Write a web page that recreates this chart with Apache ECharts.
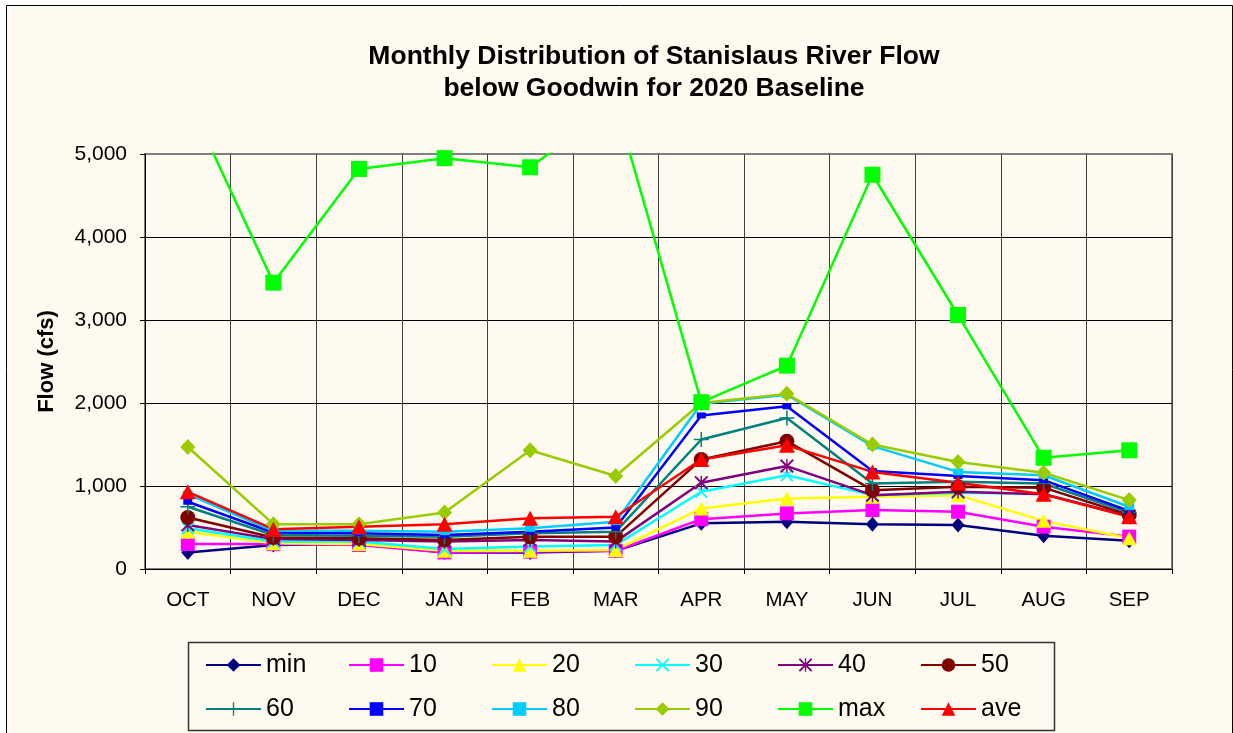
<!DOCTYPE html>
<html>
<head>
<meta charset="utf-8">
<script src="https://cdn.jsdelivr.net/npm/echarts@6/dist/echarts.min.js"></script>
<style>
html,body{margin:0;padding:0;background:#ffffff;}
#chart{width:1233px;height:733px;}
</style>
</head>
<body>
<div id="chart"></div>
<script>
var months = ['OCT','NOV','DEC','JAN','FEB','MAR','APR','MAY','JUN','JUL','AUG','SEP'];
var yTicks = [0, 1000, 2000, 3000, 4000, 5000];

var sMin = [200, 290, 300, 200, 200, 220, 550, 570, 540, 530, 400, 340];
var s10  = [300, 300, 290, 200, 210, 220, 600, 670, 710, 690, 510, 390];
var s20  = [450, 310, 300, 220, 220, 230, 730, 850, 870, 890, 580, 370];
var s30  = [490, 330, 330, 240, 270, 290, 930, 1130, 890, 920, 910, 630];
var s40  = [530, 360, 350, 330, 350, 330, 1040, 1240, 890, 930, 900, 640];
var s50  = [620, 380, 370, 350, 390, 390, 1320, 1540, 950, 990, 980, 650];
var s60  = [750, 410, 400, 390, 430, 450, 1560, 1820, 1030, 1050, 1030, 680];
var s70  = [810, 440, 430, 410, 450, 500, 1850, 1960, 1180, 1120, 1070, 700];
var s80  = [900, 460, 460, 450, 490, 570, 1990, 2100, 1480, 1170, 1130, 750];
var s90  = [1470, 540, 540, 680, 1430, 1120, 2000, 2110, 1500, 1290, 1160, 830];
var sMax = [5670, 3450, 4820, 4950, 4840, 5600, 2010, 2450, 4750, 3060, 1340, 1430];
var sAve = [930, 480, 510, 540, 610, 630, 1320, 1490, 1170, 1040, 900, 630];

var FONT = "'Liberation Sans', Arial, sans-serif";
var CREAM = '#FFFAEF';

var X_PATH = 'path://M0,2 L2,0 L10,8 L18,0 L20,2 L12,10 L20,18 L18,20 L10,12 L2,20 L0,18 L8,10 Z';
var STAR_PATH = 'path://M0,2 L2,0 L10,8 L18,0 L20,2 L12,10 L20,18 L18,20 L10,12 L2,20 L0,18 L8,10 Z M9,0 L11,0 L11,20 L9,20 Z';
var PLUS_PATH = 'path://M9,0 L11,0 L11,9 L20,9 L20,11 L11,11 L11,20 L9,20 L9,11 L0,11 L0,9 L9,9 Z';

var defs = [
  {name:'min', data:sMin, color:'#000080', symbol:'diamond', size:[13,15]},
  {name:'10',  data:s10,  color:'#FF00FF', symbol:'rect', size:14},
  {name:'20',  data:s20,  color:'#FFFF00', symbol:'triangle', size:[15,14]},
  {name:'30',  data:s30,  color:'#00FFFF', symbol:X_PATH, size:13},
  {name:'40',  data:s40,  color:'#800080', symbol:STAR_PATH, size:14},
  {name:'50',  data:s50,  color:'#800000', symbol:'circle', size:15},
  {name:'60',  data:s60,  color:'#008080', symbol:PLUS_PATH, size:15},
  {name:'70',  data:s70,  color:'#0000FF', symbol:'rect', size:[9,6]},
  {name:'80',  data:s80,  color:'#00CCFF', symbol:'rect', size:[10,7]},
  {name:'90',  data:s90,  color:'#99CC00', symbol:'diamond', size:[15,16]},
  {name:'max', data:sMax, color:'#00FF00', symbol:'rect', size:16},
  {name:'ave', data:sAve, color:'#FF0000', symbol:'triangle', size:[16,15]}
];

var series = defs.map(function(d){
  return {
    name: d.name,
    type: 'line',
    data: d.data,
    symbol: d.symbol,
    symbolSize: d.size,
    showAllSymbol: true,
    clip: true,
    lineStyle: {color: d.color, width: 2.5},
    itemStyle: {color: d.color},
    emphasis: {disabled: true},
    animation: false
  };
});

var legendCommon = {
  orient: 'horizontal',
  left: 200,
  itemWidth: 55,
  itemHeight: 17,
  itemGap: 10,
  selectedMode: false,
  textStyle: {fontFamily: FONT, fontSize: 25, color: '#000', width: 72, lineHeight: 26}
};

var option = {
  backgroundColor: '#ffffff',
  animation: false,
  graphic: [
    {type:'rect', z:-10, shape:{x:6.5, y:5.5, width:1226, height:740}, style:{fill:CREAM, stroke:'#000', lineWidth:1}},
    {type:'rect', z:-5, shape:{x:188.5, y:642.5, width:866, height:88}, style:{fill:CREAM, stroke:'#333', lineWidth:1.5}}
  ],
  title: {
    text: 'Monthly Distribution of Stanislaus River Flow\nbelow Goodwin for 2020 Baseline',
    left: 649,
    top: 36,
    textAlign: 'center',
    textStyle: {fontFamily: FONT, fontSize: 26.5, fontWeight: 'bold', color: '#000', lineHeight: 32}
  },
  legend: [
    Object.assign({}, legendCommon, {top: 647, data: ['min','10','20','30','40','50']}),
    Object.assign({}, legendCommon, {top: 691, data: ['60','70','80','90','max','ave']})
  ],
  grid: {
    left: 145, right: 61, top: 154, bottom: 164,
    show: true, backgroundColor: CREAM, borderColor: '#808080', borderWidth: 2
  },
  xAxis: {
    type: 'category',
    data: months,
    boundaryGap: true,
    axisLine: {show: true, lineStyle: {color: '#000', width: 1}},
    axisTick: {show: true, alignWithLabel: false, length: 5, lineStyle: {color: '#000'}},
    axisLabel: {fontFamily: FONT, fontSize: 20.5, color: '#000', margin: 21},
    splitLine: {show: true, lineStyle: {color: '#404040', width: 1}}
  },
  yAxis: {
    type: 'value',
    min: yTicks[0],
    max: yTicks[yTicks.length - 1],
    interval: 1000,
    name: 'Flow (cfs)',
    nameLocation: 'middle',
    nameRotate: 90,
    nameGap: 87,
    nameTextStyle: {fontFamily: FONT, fontSize: 22, fontWeight: 'bold', color: '#000'},
    axisLine: {show: true, lineStyle: {color: '#000', width: 1}},
    axisTick: {show: true, length: 5, lineStyle: {color: '#000'}},
    axisLabel: {
      fontFamily: FONT, fontSize: 21, color: '#000', margin: 18,
      formatter: function(v){ return v.toString().replace(/\B(?=(\d{3})+(?!\d))/g, ','); }
    },
    splitLine: {show: true, lineStyle: {color: ['#000','#000','#000','#000','#000','#808080'], width: 1}}
  },
  series: series
};

var chart = echarts.init(document.getElementById('chart'), null, {renderer: 'canvas'});
chart.setOption(option);
</script>
</body>
</html>
